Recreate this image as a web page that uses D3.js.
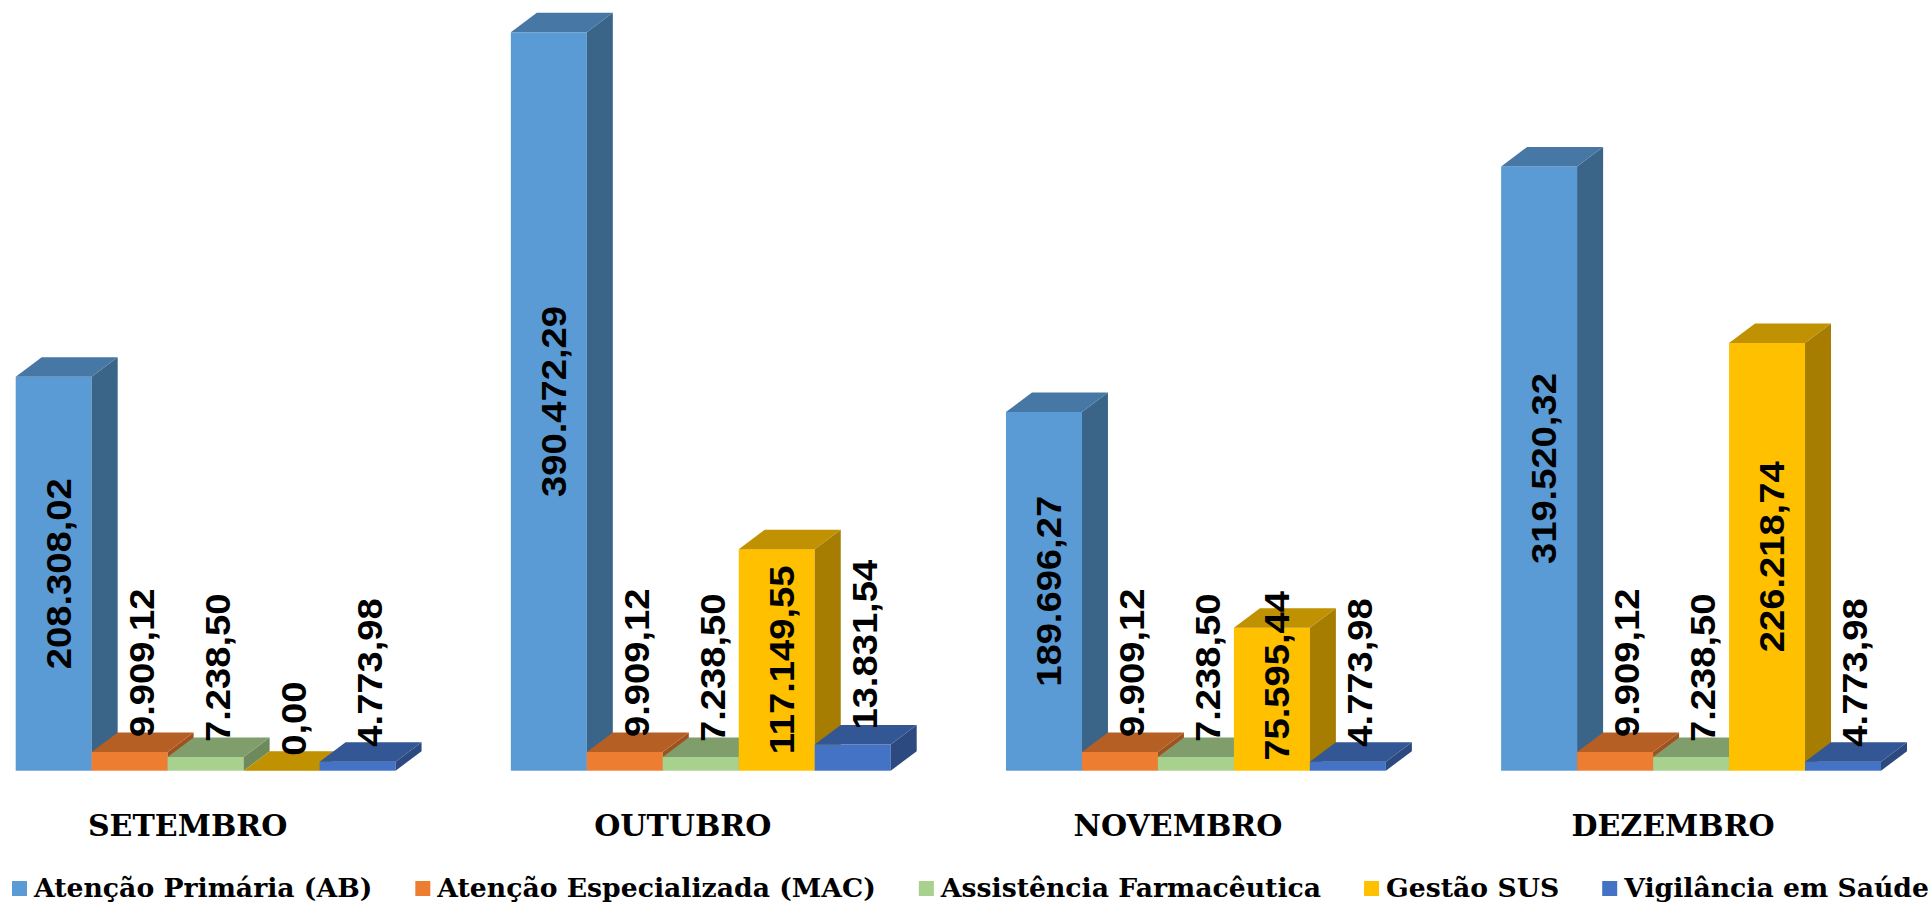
<!DOCTYPE html>
<html>
<head>
<meta charset="utf-8">
<script src="https://cdn.jsdelivr.net/npm/d3@7"></script>
<style>
  html, body { margin: 0; padding: 0; background: #fff; }
  svg { display: block; }
</style>
</head>
<body>
<svg id="chart" width="1931" height="906"></svg>
<script>
// ---- data ----
const categories = ["SETEMBRO", "OUTUBRO", "NOVEMBRO", "DEZEMBRO"];
const seriesNames = ["Atenção Primária (AB)", "Atenção Especializada (MAC)", "Assistência Farmacêutica", "Gestão SUS", "Vigilância em Saúde"];
const atencaoPrimaria = [208308.02, 390472.29, 189696.27, 319520.32];
const atencaoEspecializada = [9909.12, 9909.12, 9909.12, 9909.12];
const assistenciaFarmaceutica = [7238.50, 7238.50, 7238.50, 7238.50];
const gestaoSUS = [0.00, 117149.55, 75595.44, 226218.74];
const vigilanciaSaude = [4773.98, 13831.54, 4773.98, 4773.98];
const seriesValues = [atencaoPrimaria, atencaoEspecializada, assistenciaFarmaceutica, gestaoSUS, vigilanciaSaude];

// ---- styles ----
const faceColors = [
  { front: "#5B9BD5", top: "#4677A5", side: "#3A6488" },
  { front: "#ED7D31", top: "#B55F24", side: "#9E521F" },
  { front: "#A9D18E", top: "#7F9E6B", side: "#6E8A5C" },
  { front: "#FFC000", top: "#C09100", side: "#A67D00" },
  { front: "#4472C4", top: "#335694", side: "#2C4A80" }
];

const loc = d3.formatLocale({ decimal: ",", thousands: ".", grouping: [3], currency: ["R$ ", ""] });
const fmt = loc.format(",.2f");

const svg = d3.select("#chart");
const baseY = 770.7;
const depthX = 26, depthY = -19.5;

const x0 = d3.scaleBand().domain(categories).range([15.7, 1881]).paddingInner(0.2328).paddingOuter(0);
const x1 = d3.scaleBand().domain(seriesNames).range([0, x0.bandwidth()]).padding(0);
const maxVal = d3.max(seriesValues, s => d3.max(s));
const y = d3.scaleLinear().domain([0, maxVal]).range([baseY, 32.3]);

const bw = x1.bandwidth();
const bars = svg.append("g");
const labels = svg.append("g");
const labelFont = 35, labelStretch = 1.09;

categories.forEach((cat, ci) => {
  const g = bars.append("g");
  seriesNames.forEach((sn, si) => {
    const v = seriesValues[si][ci];
    const xl = x0(cat) + x1(sn);
    const xr = xl + bw;
    const yt = y(v);
    const c = faceColors[si];
    // front
    g.append("rect").attr("x", xl).attr("y", yt).attr("width", bw).attr("height", baseY - yt).attr("fill", c.front);
    // side
    g.append("path").attr("d", `M${xr},${yt}L${xr + depthX},${yt + depthY}L${xr + depthX},${baseY + depthY}L${xr},${baseY}Z`).attr("fill", c.side);
    // top
    g.append("path").attr("d", `M${xl},${yt}L${xl + depthX},${yt + depthY}L${xr + depthX},${yt + depthY}L${xr},${yt}Z`).attr("fill", c.top);

    const cx = xl + bw / 2;
    const inside = (baseY - yt) > 120;
    const t = labels.append("text")
      .attr("font-family", "'Liberation Sans', Arial, sans-serif")
      .attr("font-weight", "bold").attr("font-size", labelFont)
      .attr("fill", "#000")
      .text(fmt(v));
    if (inside) {
      t.attr("text-anchor", "middle");
      const len = t.node().getComputedTextLength() * labelStretch;
      let cy = (yt + baseY) / 2;
      if (cy + len / 2 > baseY - 10) cy = baseY - 10 - len / 2;
      t.attr("transform", `translate(${cx + 17},${cy}) rotate(-90) scale(${labelStretch},1)`);
    } else {
      t.attr("text-anchor", "start")
        .attr("transform", `translate(${cx + 24},${yt - 15}) rotate(-90) scale(${labelStretch},1)`);
    }
  });
});

// category labels
svg.append("g").selectAll("text").data(categories).join("text")
  .attr("x", d => x0(d) + x0.bandwidth() / 2 - 18)
  .attr("y", 836)
  .attr("text-anchor", "middle")
  .attr("font-family", "'DejaVu Serif', serif")
  .attr("font-weight", "bold").attr("font-size", 30)
  .attr("fill", "#000")
  .text(d => d);

// legend
const legend = svg.append("g");
const legendFont = 26;
const markerSize = 15, markerGap = 7, itemGap = 43;
const startX = 12, endX = 1929;
const items = seriesNames.map((sn, i) => {
  const t = legend.append("text")
    .attr("font-family", "'DejaVu Serif', serif")
    .attr("font-weight", "bold").attr("font-size", legendFont)
    .attr("fill", "#000")
    .attr("y", 897)
    .text(sn);
  return { t, w: t.node().getComputedTextLength(), i };
});
const totalText = d3.sum(items, d => d.w);
const fixed = items.length * (markerSize + markerGap) + (items.length - 1) * itemGap;
const k = (endX - startX - fixed) / totalText;
let cxPos = startX;
items.forEach(d => {
  legend.append("rect").attr("x", cxPos).attr("y", 881).attr("width", markerSize).attr("height", markerSize).attr("fill", faceColors[d.i].front);
  cxPos += markerSize + markerGap;
  const w = d.w * k;
  d.t.attr("x", cxPos).attr("textLength", w).attr("lengthAdjust", "spacingAndGlyphs");
  cxPos += w + itemGap;
});
</script>
</body>
</html>
